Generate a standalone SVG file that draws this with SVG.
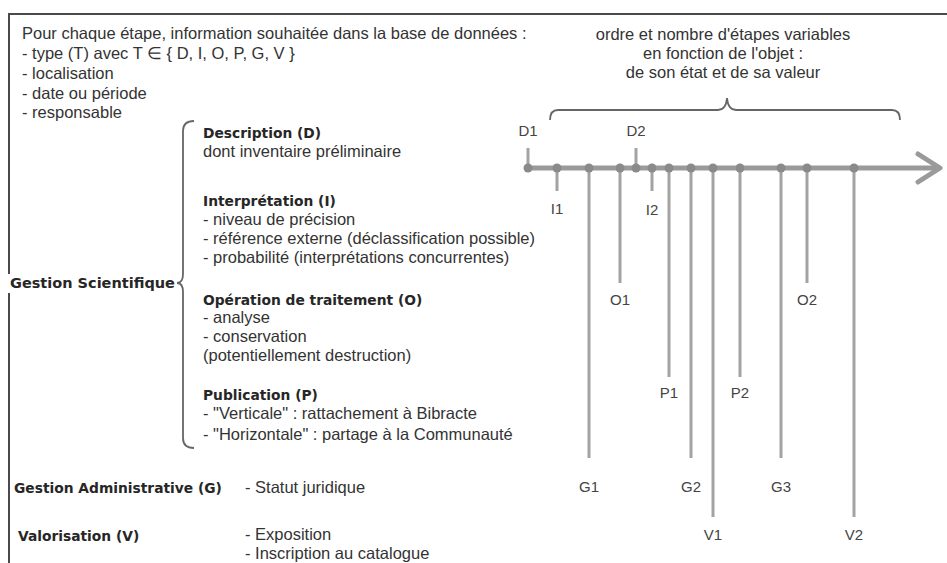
<svg xmlns="http://www.w3.org/2000/svg" width="947" height="563" viewBox="0 0 947 563">
<style>
.t{font-family:"Liberation Sans",Arial,sans-serif;font-size:16.5px;fill:#333}
.b{font-family:"DejaVu Sans",Verdana,sans-serif;font-size:13.8px;font-weight:bold;fill:#262626}
.lbl{font-family:"Liberation Sans",Arial,sans-serif;font-size:15px;fill:#444;text-anchor:middle}
.mid{text-anchor:middle}
.brace{fill:none;stroke:#666;stroke-width:1.8}
.v{stroke:#a3a3a3;stroke-width:3;fill:none}
.dot{fill:#8a8a8a}
</style>
<rect width="947" height="563" fill="#fff"/>
<path d="M9,563 V14 H947" fill="none" stroke="#4a4a4a" stroke-width="2"/>

<g id="info">
<text class="t" x="22" y="39">Pour chaque étape, information souhaitée dans la base de données :</text>
<text class="t" x="22" y="59">- type (T) avec T ∈ { D, I, O, P, G, V }</text>
<text class="t" x="22" y="79">- localisation</text>
<text class="t" x="22" y="99">- date ou période</text>
<text class="t" x="22" y="118">- responsable</text>
</g>

<g id="note">
<text class="t mid" x="723" y="40">ordre et nombre d'étapes variables</text>
<text class="t mid" x="723" y="59">en fonction de l'objet :</text>
<text class="t mid" x="723" y="78">de son état et de sa valeur</text>
<path class="brace" d="M550,120 Q550,110 558,110 H718 Q726,110 727,98 Q728,110 736,110 H892 Q900,110 900,120"/>
</g>

<g id="gestion-scientifique">
<rect x="4" y="274" width="173" height="19" fill="#fff"/>
<text class="b" x="10" y="288" style="font-size:14.5px">Gestion Scientifique</text>
<path class="brace" d="M194,121 Q183,121 183,131 V274 Q183,283 177,283 Q183,283 183,292 V438 Q183,448 194,448"/>
</g>

<g id="description">
<text class="b" x="203" y="138">Description (D)</text>
<text class="t" x="203" y="157">dont inventaire préliminaire</text>
</g>

<g id="interpretation">
<text class="b" x="203" y="206">Interprétation (I)</text>
<text class="t" x="203" y="225">- niveau de précision</text>
<text class="t" x="203" y="244">- référence externe (déclassification possible)</text>
<text class="t" x="203" y="263">- probabilité (interprétations concurrentes)</text>
</g>

<g id="operation">
<text class="b" x="203" y="305">Opération de traitement (O)</text>
<text class="t" x="203" y="323">- analyse</text>
<text class="t" x="203" y="342">- conservation</text>
<text class="t" x="203" y="361">(potentiellement destruction)</text>
</g>

<g id="publication">
<text class="b" x="203" y="400">Publication (P)</text>
<text class="t" x="203" y="419">- "Verticale" : rattachement à Bibracte</text>
<text class="t" x="203" y="440">- "Horizontale" : partage à la Communauté</text>
</g>

<g id="gestion-administrative">
<text class="b" x="14" y="493">Gestion Administrative (G)</text>
<text class="t" x="245" y="493">- Statut juridique</text>
</g>

<g id="valorisation">
<text class="b" x="18" y="541">Valorisation (V)</text>
<text class="t" x="245" y="540">- Exposition</text>
<text class="t" x="245" y="559">- Inscription au catalogue</text>
</g>

<g id="connectors">
<line class="v" x1="528" y1="148" x2="528" y2="168"/>
<line class="v" x1="636" y1="148" x2="636" y2="168"/>
<line class="v" x1="557" y1="168" x2="557" y2="191"/>
<line class="v" x1="652" y1="168" x2="652" y2="191"/>
<line class="v" x1="589" y1="168" x2="589" y2="458"/>
<line class="v" x1="620" y1="168" x2="620" y2="283"/>
<line class="v" x1="669" y1="168" x2="669" y2="377"/>
<line class="v" x1="691" y1="168" x2="691" y2="458"/>
<line class="v" x1="713" y1="168" x2="713" y2="517"/>
<line class="v" x1="740" y1="168" x2="740" y2="377"/>
<line class="v" x1="781" y1="168" x2="781" y2="458"/>
<line class="v" x1="807" y1="168" x2="807" y2="283"/>
<line class="v" x1="854" y1="168" x2="854" y2="517"/>
<line x1="526" y1="168" x2="938" y2="168" stroke="#9a9a9a" stroke-width="5"/>
<polyline points="918,154 940,168 918,182" fill="none" stroke="#9a9a9a" stroke-width="5" stroke-linecap="round" stroke-linejoin="round"/>
<circle class="dot" cx="528" cy="168" r="4.5"/>
<circle class="dot" cx="557" cy="168" r="4.5"/>
<circle class="dot" cx="589" cy="168" r="4.5"/>
<circle class="dot" cx="620" cy="168" r="4.5"/>
<circle class="dot" cx="636" cy="168" r="4.5"/>
<circle class="dot" cx="652" cy="168" r="4.5"/>
<circle class="dot" cx="669" cy="168" r="4.5"/>
<circle class="dot" cx="691" cy="168" r="4.5"/>
<circle class="dot" cx="713" cy="168" r="4.5"/>
<circle class="dot" cx="740" cy="168" r="4.5"/>
<circle class="dot" cx="781" cy="168" r="4.5"/>
<circle class="dot" cx="807" cy="168" r="4.5"/>
<circle class="dot" cx="854" cy="168" r="4.5"/>
</g>

<g id="labels">
<text class="lbl" x="528" y="136">D1</text>
<text class="lbl" x="636" y="136">D2</text>
<text class="lbl" x="557" y="214">I1</text>
<text class="lbl" x="652" y="215">I2</text>
<text class="lbl" x="620" y="305">O1</text>
<text class="lbl" x="807" y="305">O2</text>
<text class="lbl" x="669" y="398">P1</text>
<text class="lbl" x="740" y="398">P2</text>
<text class="lbl" x="589" y="492">G1</text>
<text class="lbl" x="691" y="492">G2</text>
<text class="lbl" x="781" y="492">G3</text>
<text class="lbl" x="713" y="540">V1</text>
<text class="lbl" x="854" y="540">V2</text>
</g>
</svg>
